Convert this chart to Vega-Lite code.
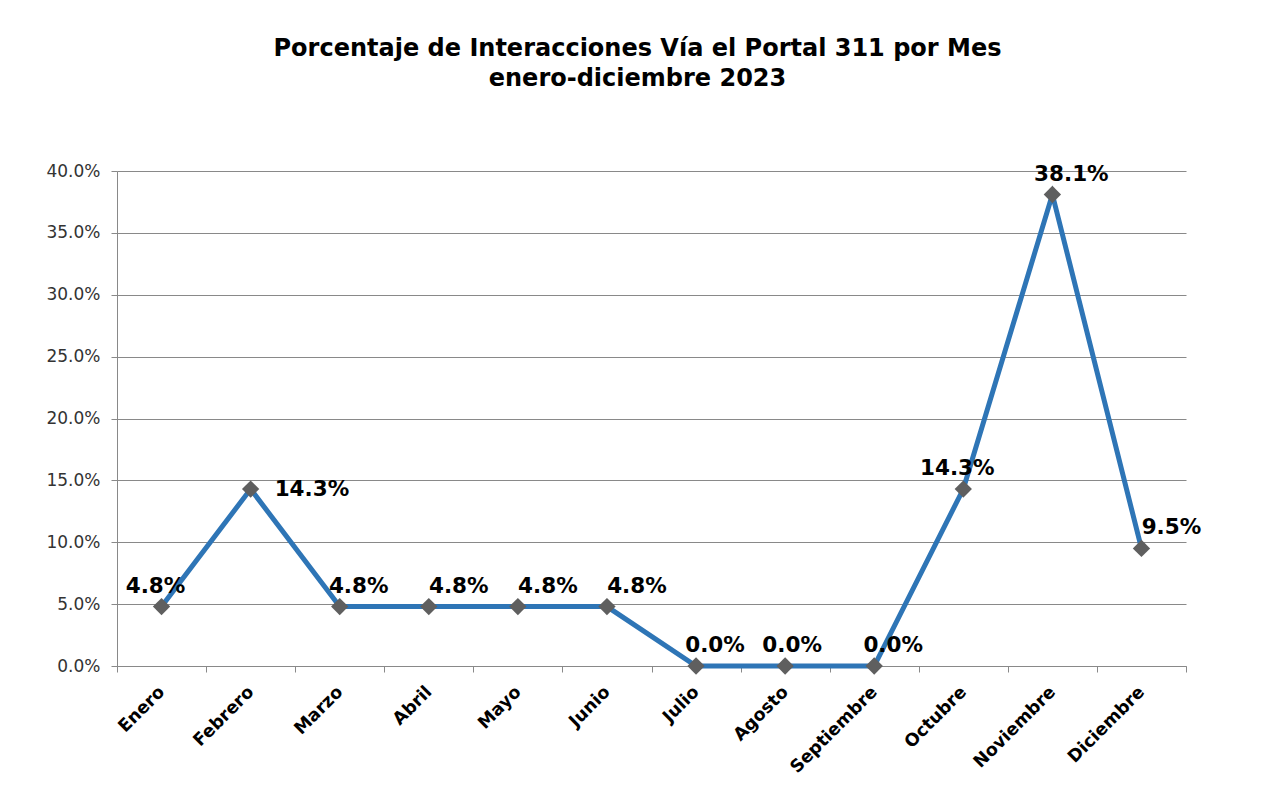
{
  "$schema": "https://vega.github.io/schema/vega-lite/v6.json",
  "width": 1069,
  "height": 495,
  "autosize": {"type": "none"},
  "padding": {"left": 117, "top": 171, "right": 90, "bottom": 119},
  "background": "white",
  "title": {
    "text": ["Porcentaje de Interacciones Vía el Portal 311 por Mes", "enero-diciembre 2023"],
    "font": "DejaVu Sans",
    "fontSize": 24,
    "fontWeight": "bold",
    "color": "black",
    "lineHeight": 30,
    "anchor": "middle",
    "baseline": "bottom",
    "dx": -14,
    "offset": 47
  },
  "config": {
    "view": {"stroke": null},
    "font": "DejaVu Sans"
  },
  "data": {
    "values": [
      {"mes": "Enero", "pct": 0.048},
      {"mes": "Febrero", "pct": 0.143},
      {"mes": "Marzo", "pct": 0.048},
      {"mes": "Abril", "pct": 0.048},
      {"mes": "Mayo", "pct": 0.048},
      {"mes": "Junio", "pct": 0.048},
      {"mes": "Julio", "pct": 0.0},
      {"mes": "Agosto", "pct": 0.0},
      {"mes": "Septiembre", "pct": 0.0},
      {"mes": "Octubre", "pct": 0.143},
      {"mes": "Noviembre", "pct": 0.381},
      {"mes": "Diciembre", "pct": 0.095}
    ]
  },
  "encoding": {
    "x": {
      "field": "mes",
      "type": "nominal",
      "sort": null,
      "scale": {"type": "band", "paddingInner": 0, "paddingOuter": 0},
      "axis": {
        "title": null,
        "labelAngle": -45,
        "labelAlign": "right",
        "labelBaseline": "middle",
        "labelFont": "DejaVu Sans",
        "labelFontSize": 17.5,
        "labelFontWeight": "bold",
        "labelColor": "black",
        "labelPadding": 17,
        "tickBand": "extent",
        "tickSize": 6,
        "tickColor": "#898989",
        "domainColor": "#898989",
        "grid": false
      }
    },
    "y": {
      "field": "pct",
      "type": "quantitative",
      "scale": {"domain": [0, 0.4], "nice": false},
      "axis": {
        "title": null,
        "values": [0, 0.05, 0.1, 0.15, 0.2, 0.25, 0.3, 0.35, 0.4],
        "format": ".1%",
        "labelFont": "DejaVu Sans",
        "labelFontSize": 17,
        "labelColor": "#333333",
        "labelPadding": 11,
        "tickSize": 6,
        "tickColor": "#898989",
        "domainColor": "#898989",
        "gridColor": "#898989",
        "gridOpacity": 1,
        "grid": true
      }
    }
  },
  "layer": [
    {"mark": {"type": "line", "color": "#2E75B6", "strokeWidth": 5}},
    {"mark": {"type": "point", "shape": "diamond", "filled": true, "size": 300, "color": "#5f5f5f", "opacity": 1}},
    {
      "transform": [{"filter": {"field": "mes", "oneOf": ["Enero", "Octubre"]}}],
      "mark": {"type": "text", "dx": -6, "dy": -20, "fontSize": 21.5, "fontWeight": "bold", "color": "black"},
      "encoding": {"text": {"field": "pct", "format": ".1%"}}
    },
    {
      "transform": [{"filter": {"field": "mes", "oneOf": ["Agosto"]}}],
      "mark": {"type": "text", "dx": 7, "dy": -20, "fontSize": 21.5, "fontWeight": "bold", "color": "black"},
      "encoding": {"text": {"field": "pct", "format": ".1%"}}
    },
    {
      "transform": [{"filter": {"field": "mes", "oneOf": ["Marzo", "Julio", "Septiembre", "Noviembre"]}}],
      "mark": {"type": "text", "dx": 19, "dy": -20, "fontSize": 21.5, "fontWeight": "bold", "color": "black"},
      "encoding": {"text": {"field": "pct", "format": ".1%"}}
    },
    {
      "transform": [{"filter": {"field": "mes", "oneOf": ["Abril", "Mayo", "Junio", "Diciembre"]}}],
      "mark": {"type": "text", "dx": 30, "dy": -20, "fontSize": 21.5, "fontWeight": "bold", "color": "black"},
      "encoding": {"text": {"field": "pct", "format": ".1%"}}
    },
    {
      "transform": [{"filter": {"field": "mes", "oneOf": ["Febrero"]}}],
      "mark": {"type": "text", "align": "left", "dx": 24, "dy": 1, "fontSize": 21.5, "fontWeight": "bold", "color": "black"},
      "encoding": {"text": {"field": "pct", "format": ".1%"}}
    }
  ]
}
